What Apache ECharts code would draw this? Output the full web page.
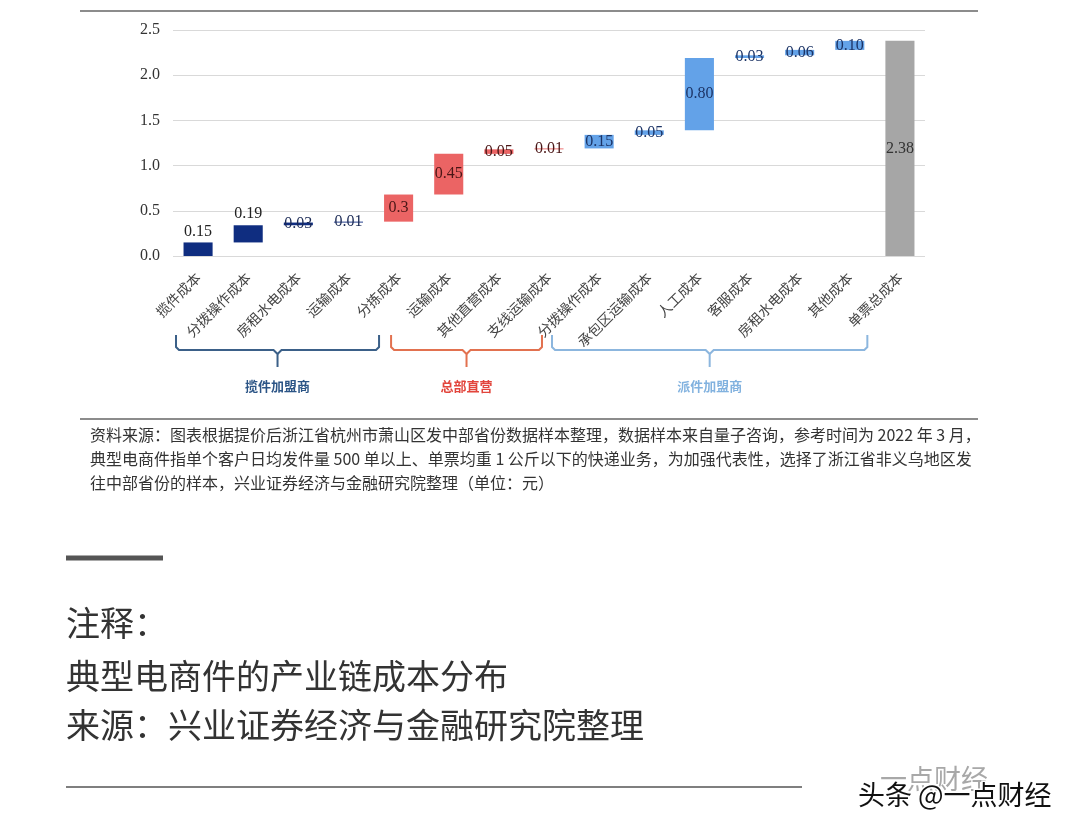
<!DOCTYPE html>
<html><head><meta charset="utf-8">
<script src="https://cdn.jsdelivr.net/npm/echarts@6/dist/echarts.min.js"></script>
<style>html,body{margin:0;padding:0;background:#fff}#c{width:1080px;height:830px}</style>
</head><body><div id="c"></div>
<script>
// ---------- data ----------
const categories = ['揽件成本','分拨操作成本','房租水电成本','运输成本','分拣成本','运输成本','其他直营成本','支线运输成本','分拨操作成本','承包区运输成本','人工成本','客服成本','房租水电成本','其他成本','单票总成本'];
const costValues = [0.15,0.19,0.03,0.01,0.3,0.45,0.05,0.01,0.15,0.05,0.80,0.03,0.06,0.10,2.38];
const valueLabels = ['0.15','0.19','0.03','0.01','0.3','0.45','0.05','0.01','0.15','0.05','0.80','0.03','0.06','0.10','2.38'];
const groupOf = [0,0,0,0,1,1,1,1,2,2,2,2,2,2,3]; // 3 = total
const groupNames = ['揽件加盟商','总部直营','派件加盟商'];
const yTicks = [0,0.5,1.0,1.5,2.0,2.5];
const footnoteLines = [
  '资料来源：图表根据提价后浙江省杭州市萧山区发中部省份数据样本整理，数据样本来自量子咨询，参考时间为 2022 年 3 月，',
  '典型电商件指单个客户日均发件量 500 单以上、单票均重 1 公斤以下的快递业务，为加强代表性，选择了浙江省非义乌地区发',
  '往中部省份的样本，兴业证券经济与金融研究院整理（单位：元）'
];
const noteLines = ['注释：','典型电商件的产业链成本分布','来源：兴业证券经济与金融研究院整理'];

// ---------- styles / layout ----------
const barColors = ['#0f2d80','#eb6464','#63a2e8','#a6a6a6'];
const labelColors = ['#1b2a55','#4a1616','#1c3466','#333333'];
const bracketColors = ['#3b6088','#e2714f','#8cb6de'];
const groupTextColors = ['#2c5586','#e2453c','#82b2df'];
const bracketSpans = [[-0.44,3.61],[3.85,6.86],[7.06,13.35]];
const topLabelIdx = [0,1];

// waterfall bases from cumulative sums
const isTotal = groupOf.map(g => g === 3);
const bases = [];
let run = 0;
costValues.forEach((v,i) => {
  if (isTotal[i]) { bases.push(0); }
  else { bases.push(Math.round(run*100)/100); run += v; }
});

const chart = echarts.init(document.getElementById('c'), null, {renderer:'canvas', width:1080, height:830});

const valueData = costValues.map((v,i) => ({
  value: v,
  itemStyle: {color: barColors[groupOf[i]]},
  label: {
    show: true,
    position: topLabelIdx.includes(i) ? 'top' : 'inside',
    distance: 3,
    formatter: valueLabels[i],
    color: topLabelIdx.includes(i) ? '#222' : labelColors[groupOf[i]],
    fontFamily: 'Liberation Serif',
    fontSize: 16
  }
}));

const staticGraphic = [
  {type:'line', shape:{x1:80,y1:11,x2:978,y2:11}, style:{stroke:'#8c8c8c', lineWidth:2}},
  {type:'line', shape:{x1:80,y1:419,x2:978,y2:419}, style:{stroke:'#8c8c8c', lineWidth:2}},
  ...footnoteLines.map((t,i) => ({type:'text', x:90, y:435+24*i, style:{text:t, fill:'#333', font:'16px "Noto Sans CJK SC"', verticalAlign:'middle'}})),
  {type:'line', shape:{x1:66,y1:558,x2:163,y2:558}, style:{stroke:'#555', lineWidth:5}},
  ...noteLines.map((t,i) => ({type:'text', x:66, y:[623,676,725][i], style:{text:t, fill:'#333', font:'34px "Noto Sans CJK SC"', verticalAlign:'middle'}})),
  {type:'line', shape:{x1:66,y1:787,x2:802,y2:787}, style:{stroke:'#555', lineWidth:1.5}},
  {type:'text', x:880, y:779, style:{text:'一点财经', fill:'#a8a8a8', font:'27px "Noto Sans CJK SC"', verticalAlign:'middle'}},
  {type:'text', x:858, y:795, style:{text:'头条 @一点财经', fill:'#111', stroke:'#fff', lineWidth:3, font:'27px "Noto Sans CJK SC"', verticalAlign:'middle'}}
];

chart.setOption({
  animation: false,
  backgroundColor: '#fff',
  grid: {left:173, right:155, top:30, bottom:574, containLabel:false},
  xAxis: {
    type:'category', data: categories,
    axisLine:{show:false}, axisTick:{show:false},
    axisLabel:{rotate:45, interval:0, margin:19, color:'#444', fontSize:14, fontFamily:'Noto Sans CJK SC'}
  },
  yAxis: {
    type:'value', min:yTicks[0], max:yTicks[yTicks.length-1], interval:0.5,
    axisLine:{show:false}, axisTick:{show:false},
    splitLine:{lineStyle:{color:'#d9d9d9', width:1}},
    axisLabel:{margin:13, color:'#333', fontSize:16, fontFamily:'Liberation Serif', formatter: v => v.toFixed(1)}
  },
  series: [
    {type:'bar', stack:'w', data: bases, itemStyle:{color:'transparent'}, barWidth:'58%', silent:true},
    {type:'bar', stack:'w', data: valueData, barWidth:'58%'}
  ],
  graphic: staticGraphic
});

// brackets under the category labels, placed from the axis scale
const c0 = chart.convertToPixel({xAxisIndex:0}, 0);
const c1 = chart.convertToPixel({xAxisIndex:0}, 1);
const band = c1 - c0;
const px = p => c0 + band*p;
const bracketGraphic = [];
bracketSpans.forEach((s,i) => {
  const a = px(s[0]), b = px(s[1]), c = (a+b)/2;
  const st = {stroke: bracketColors[i], lineWidth: 2, fill: null};
  bracketGraphic.push({type:'polyline', shape:{points:[[a,335],[a,347],[a+3,350],[c-4,350],[c,354],[c,367]]}, style:st});
  bracketGraphic.push({type:'polyline', shape:{points:[[c,354],[c+4,350],[b-3,350],[b,347],[b,335]]}, style:st});
  bracketGraphic.push({type:'text', x:c, y:386, style:{text:groupNames[i], fill:groupTextColors[i], font:'bold 13px "Noto Sans CJK SC"', align:'center', verticalAlign:'middle'}});
});
chart.setOption({graphic: staticGraphic.concat(bracketGraphic)});
</script>
</body></html>
